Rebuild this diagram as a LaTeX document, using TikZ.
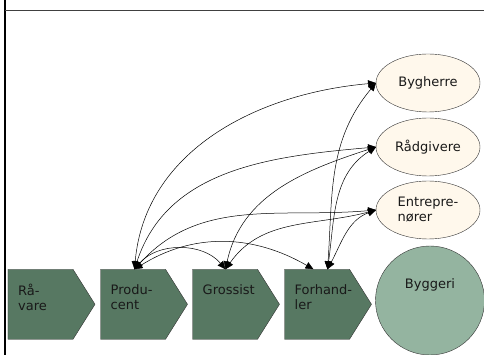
\documentclass[tikz,border=0pt]{standalone}
\usepackage{fontspec}
\setmainfont{DejaVu Sans}
\usetikzlibrary{shapes.symbols,shapes.geometric,arrows.meta}
\definecolor{chevgreen}{HTML}{577862}
\definecolor{sitegreen}{HTML}{94B4A0}
\definecolor{cream}{HTML}{FFF8EC}

\begin{document}
\begin{tikzpicture}[x=1pt, y=1pt,
    every node/.style={font=\fontsize{13}{15}\selectfont, text=black!90},
    chev/.style={draw=black!80, fill=chevgreen, shape=signal, signal to=east, signal pointer angle=115.7,
        minimum width=87pt, minimum height=70pt, inner sep=0pt, outer sep=0pt},
    actor/.style={draw=black!80, fill=cream, ellipse, minimum width=104pt, minimum height=58pt,
        inner sep=0pt, outer sep=0pt, align=left},
    lbl/.style={anchor=north west, align=left, inner sep=0pt},
    link/.style={{Triangle[length=8pt,width=7pt]}-{Triangle[length=8pt,width=7pt]}, line width=0.5pt}]
    \useasboundingbox (0,0) rectangle (484,355);

    % Ramme
    \draw[line width=2pt] (4.5,0) -- (4.5,355);
    \draw[line width=0.6pt, black!75] (4.5,344.5) -- (484,344.5);

    % Værdikæden
    \node[chev] (raavare) at (40.5,50.7) {};
    \node[chev] (prod) at (133,50.7) {};
    \node[chev] (gross) at (225,50.7) {};
    \node[chev] (forh) at (317,50.7) {};
    \node[lbl] (raavaretxt) at ([shift={(10pt,20pt)}]raavare.west) {Rå-\\vare};
    \node[lbl] (prodtxt) at ([shift={(10pt,20pt)}]prod.west) {Produ-\\cent};
    \node[lbl] (grosstxt) at ([shift={(10pt,20pt)}]gross.west) {Grossist};
    \node[lbl] (forhtxt) at ([shift={(10pt,20pt)}]forh.west) {Forhand-\\ler};

    % Byggeriet
    \node[draw=black!80, fill=sitegreen, circle, minimum size=109pt, inner sep=0pt] (bygg) at (430,54.5) {};
    \node (byggtxt) at ([yshift=16pt]bygg.center) {Byggeri};

    % Aktører
    \node[actor] (bygh) at (428,272) {Bygherre};
    \node[actor] (raad) at (428,208) {Rådgivere};
    \node[actor] (entr) at (428,145) {Entrepre-\\nører};

    % Ankerpunkter på kæden
    \coordinate (prodtop) at ([shift={(34pt,35pt)}]prod.west);
    \coordinate (grosstop) at ([shift={(33pt,35pt)}]gross.west);
    \coordinate (forhtopA) at ([shift={(29pt,35pt)}]forh.west);
    \coordinate (forhtopB) at ([shift={(43pt,35pt)}]forh.west);

    % Relationer fra producent
    \draw[link] (prodtop) to[out=85,in=185] (bygh.west);
    \draw[link] (prodtop) to[out=72,in=185] (raad.west);
    \draw[link] (prodtop) to[out=48,in=185] (entr.west);
    \draw[link] (prodtop) to[out=50,in=130] (grosstop);
    \draw[link] (prodtop) to[out=32,in=150] (forhtopA);

    % Relationer fra grossist og forhandler
    \draw[link] (grosstop) to[out=78,in=198] (raad.west);
    \draw[link] (grosstop) to[out=55,in=195] (entr.west);
    \draw[link] (forhtopB) to[out=86,in=230] (bygh.west);
    \draw[link] (forhtopB) to[out=82,in=212] (raad.west);
    \draw[link] (forhtopB) to[out=62,in=200] (entr.west);
\end{tikzpicture}
\end{document}
